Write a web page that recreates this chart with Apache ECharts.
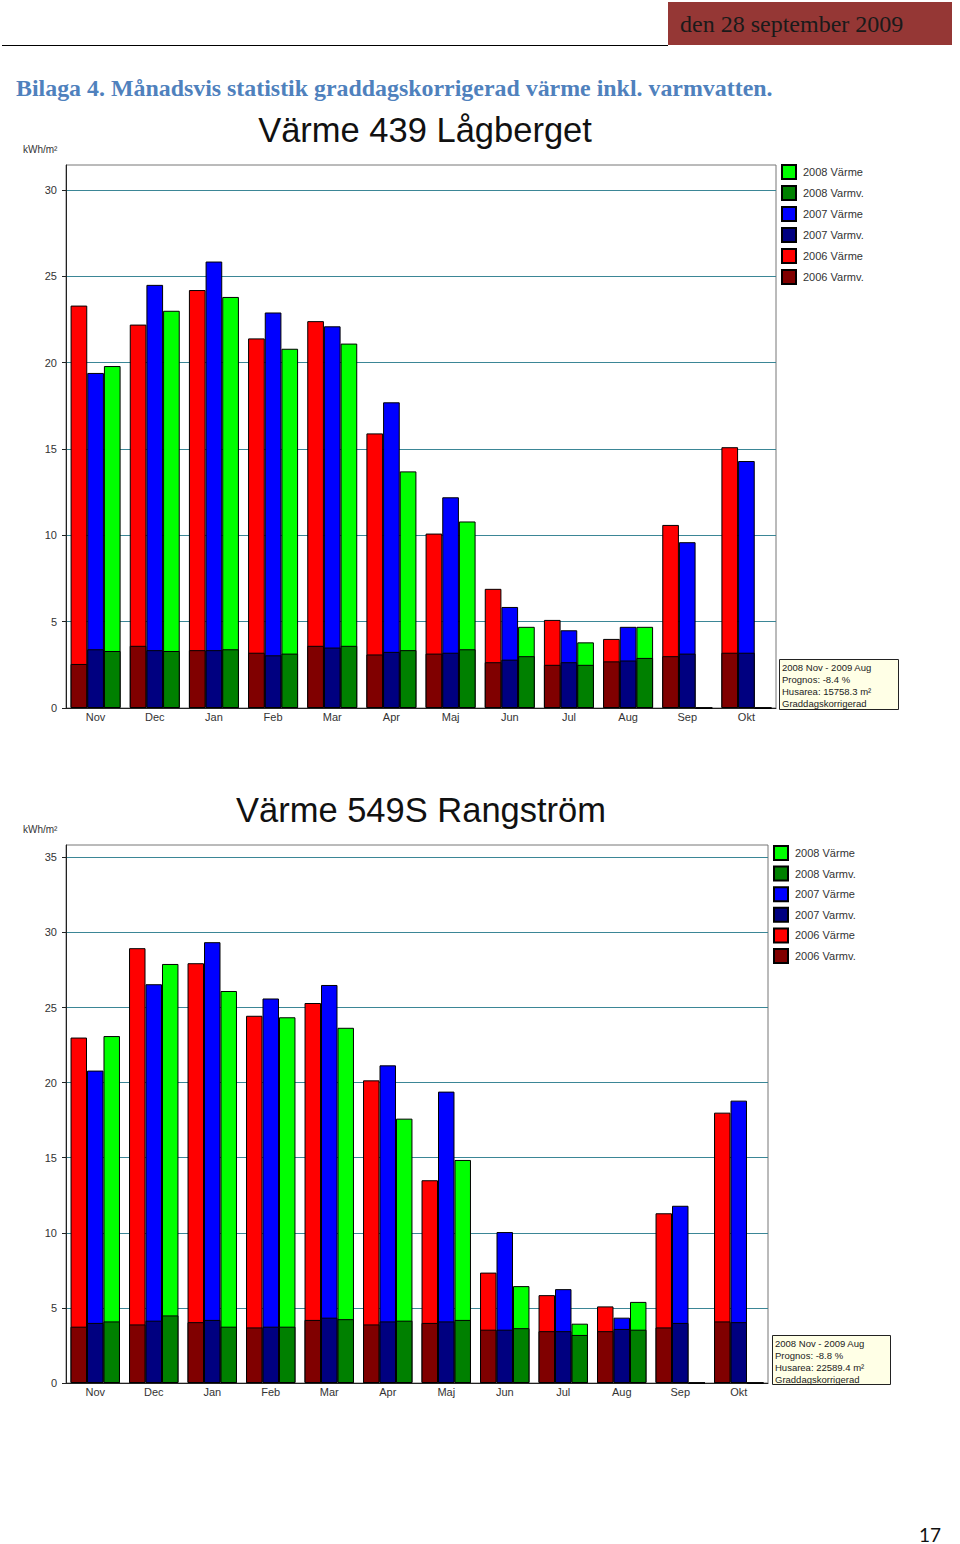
<!DOCTYPE html>
<html>
<head>
<meta charset="utf-8">
<script src="https://cdn.jsdelivr.net/npm/echarts/dist/echarts.min.js"></script>
<style>
html,body{margin:0;padding:0;background:#fff;}
#page{width:960px;height:1544px;}
</style>
</head>
<body>
<div id="page"></div>
<script>
// ---------- DATA ----------
const months = ['Nov','Dec','Jan','Feb','Mar','Apr','Maj','Jun','Jul','Aug','Sep','Okt'];
const legendOrder = ['2008 Värme','2008 Varmv.','2007 Värme','2007 Varmv.','2006 Värme','2006 Varmv.'];
const yTicks1 = [0,5,10,15,20,25,30];
const yTicks2 = [0,5,10,15,20,25,30,35];

// Värme 439 Lågberget (kWh/m²)
const lag2006Varme = [23.3, 22.2, 24.2, 21.4, 22.4, 15.9, 10.1, 6.9, 5.1, 4.0, 10.6, 15.1];
const lag2006Varmv = [2.55, 3.6, 3.35, 3.2, 3.6, 3.1, 3.15, 2.65, 2.5, 2.7, 3.0, 3.2];
const lag2007Varme = [19.4, 24.5, 25.85, 22.9, 22.1, 17.7, 12.2, 5.85, 4.5, 4.7, 9.6, 14.3];
const lag2007Varmv = [3.4, 3.35, 3.35, 3.05, 3.5, 3.25, 3.2, 2.8, 2.65, 2.75, 3.15, 3.2];
const lag2008Varme = [19.8, 23.0, 23.8, 20.8, 21.1, 13.7, 10.8, 4.7, 3.8, 4.7, 0, 0];
const lag2008Varmv = [3.3, 3.3, 3.4, 3.15, 3.6, 3.35, 3.4, 3.0, 2.5, 2.9, 0, 0];

// Värme 549S Rangström (kWh/m²)
const ran2006Varme = [23.0, 28.95, 27.95, 24.45, 25.3, 20.15, 13.5, 7.35, 5.85, 5.1, 11.3, 18.0];
const ran2006Varmv = [3.75, 3.9, 4.05, 3.7, 4.2, 3.9, 4.0, 3.55, 3.45, 3.45, 3.7, 4.1];
const ran2007Varme = [20.8, 26.55, 29.35, 25.6, 26.5, 21.15, 19.4, 10.05, 6.25, 4.35, 11.8, 18.8];
const ran2007Varmv = [4.0, 4.15, 4.2, 3.75, 4.35, 4.1, 4.1, 3.55, 3.45, 3.6, 4.0, 4.05];
const ran2008Varme = [23.1, 27.9, 26.1, 24.35, 23.65, 17.6, 14.85, 6.45, 3.95, 5.4, 0, 0];
const ran2008Varmv = [4.1, 4.5, 3.75, 3.75, 4.25, 4.15, 4.2, 3.65, 3.2, 3.55, 0, 0];

const info1 = ['2008 Nov - 2009 Aug','Prognos: -8.4 %','Husarea: 15758.3 m²','Graddagskorrigerad'];
const info2 = ['2008 Nov - 2009 Aug','Prognos: -8.8 %','Husarea: 22589.4 m²','Graddagskorrigerad'];

// ---------- STYLE ----------
const FONT = '"Liberation Sans", Arial, sans-serif';
const colors = {
  '2006 Värme':'#ff0000','2006 Varmv.':'#800000',
  '2007 Värme':'#0000ff','2007 Varmv.':'#000080',
  '2008 Värme':'#00ff00','2008 Varmv.':'#008000'
};

function bar(name, data, xi, yi, z){
  return {
    type:'bar', name:name, data:data, xAxisIndex:xi, yAxisIndex:yi, z:z,
    barGap:'0%', barCategoryGap:'15.5%',
    itemStyle:{color:colors[name], borderColor:'#000', borderWidth:1},
    emphasis:{disabled:true}
  };
}

function xAx(grid, visible){
  if(!visible) return {type:'category', gridIndex:grid, data:months, show:false};
  return {
    type:'category', gridIndex:grid, data:months,
    axisLine:{show:true, lineStyle:{color:'#222', width:1}},
    axisTick:{show:false},
    axisLabel:{margin:3, color:'#333', fontSize:11, fontFamily:FONT},
    splitLine:{show:false}
  };
}
function yAx(grid, max){
  return {
    type:'value', gridIndex:grid, min:0, max:max, interval:5,
    axisLine:{show:true, lineStyle:{color:'#222', width:1}},
    axisTick:{show:true, length:4, lineStyle:{color:'#222'}},
    axisLabel:{showMaxLabel:false, margin:9, color:'#333', fontSize:11, fontFamily:FONT},
    splitLine:{show:true, showMaxLine:false, lineStyle:{color:'#3b8696', width:1}}
  };
}
function legend(left, top, gap){
  return {
    orient:'vertical', left:left, top:top, padding:0,
    itemWidth:14, itemHeight:14, itemGap:gap, icon:'rect',
    selectedMode:false, data:legendOrder,
    textStyle:{fontSize:11, color:'#333', fontFamily:FONT, padding:[0,0,0,2]}
  };
}
function infoBox(x, y, w, h, lines){
  return {
    type:'group', x:x, y:y, children:[
      {type:'rect', shape:{x:0.5, y:0.5, width:w, height:h}, style:{fill:'#ffffe6', stroke:'#222', lineWidth:1}},
      {type:'text', x:3, y:2, style:{text:lines.join('\n'), fontSize:9.5, lineHeight:12.2, fontFamily:FONT, fill:'#222'}}
    ]
  };
}

const chart = echarts.init(document.getElementById('page'), null, {renderer:'svg', width:960, height:1544});
chart.setOption({
  animation:false,
  backgroundColor:'#fff',
  title:[
    {text:'Värme 439 Lågberget', left:425, top:112, textAlign:'center', padding:0,
     textStyle:{fontSize:34.5, fontWeight:'normal', color:'#111', fontFamily:FONT}},
    {text:'Värme 549S Rangström', left:421, top:792, textAlign:'center', padding:0,
     textStyle:{fontSize:34.5, fontWeight:'normal', color:'#111', fontFamily:FONT}}
  ],
  legend:[legend(781, 164, 5), legend(773, 845, 4.6)],
  grid:[
    {left:66, top:165, width:710, height:543, show:true, borderColor:'#777', borderWidth:1, backgroundColor:'#fff'},
    {left:66, top:845, width:702, height:538, show:true, borderColor:'#777', borderWidth:1, backgroundColor:'#fff'}
  ],
  xAxis:[xAx(0,true), xAx(0,false), xAx(1,true), xAx(1,false)],
  yAxis:[yAx(0, 31.44), yAx(1, 35.82)],
  series:[
    bar('2006 Värme', lag2006Varme, 0, 0, 2),
    bar('2007 Värme', lag2007Varme, 0, 0, 2),
    bar('2008 Värme', lag2008Varme, 0, 0, 2),
    bar('2006 Varmv.', lag2006Varmv, 1, 0, 3),
    bar('2007 Varmv.', lag2007Varmv, 1, 0, 3),
    bar('2008 Varmv.', lag2008Varmv, 1, 0, 3),
    bar('2006 Värme', ran2006Varme, 2, 1, 2),
    bar('2007 Värme', ran2007Varme, 2, 1, 2),
    bar('2008 Värme', ran2008Varme, 2, 1, 2),
    bar('2006 Varmv.', ran2006Varmv, 3, 1, 3),
    bar('2007 Varmv.', ran2007Varmv, 3, 1, 3),
    bar('2008 Varmv.', ran2008Varmv, 3, 1, 3)
  ],
  graphic:[
    {type:'line', shape:{x1:2, y1:45.5, x2:668, y2:45.5}, style:{stroke:'#000', lineWidth:1}},
    {type:'rect', shape:{x:668, y:2, width:284, height:43}, style:{fill:'#953735'}},
    {type:'text', x:680, y:24, style:{text:'den 28 september 2009', fontSize:24, fontFamily:'"Liberation Serif", serif', fill:'#1a1a1a', verticalAlign:'middle'}},
    {type:'text', x:16, y:88, style:{text:'Bilaga 4. Månadsvis statistik graddagskorrigerad värme inkl. varmvatten.', fontSize:23.9, fontWeight:'bold', fontFamily:'"Liberation Serif", serif', fill:'#4f81bd', verticalAlign:'middle'}},
    {type:'text', x:23, y:149, style:{text:'kWh/m²', fontSize:10, fontFamily:FONT, fill:'#333', verticalAlign:'middle'}},
    {type:'text', x:23, y:829, style:{text:'kWh/m²', fontSize:10, fontFamily:FONT, fill:'#333', verticalAlign:'middle'}},
    infoBox(779, 659, 119, 50, info1),
    infoBox(772, 1335, 118, 49, info2),
    {type:'text', x:919, y:1534, style:{text:'17', fontSize:19, fontFamily:'Lato, "Open Sans", sans-serif', fill:'#111', verticalAlign:'middle'}}
  ]
});
</script>
</body>
</html>
